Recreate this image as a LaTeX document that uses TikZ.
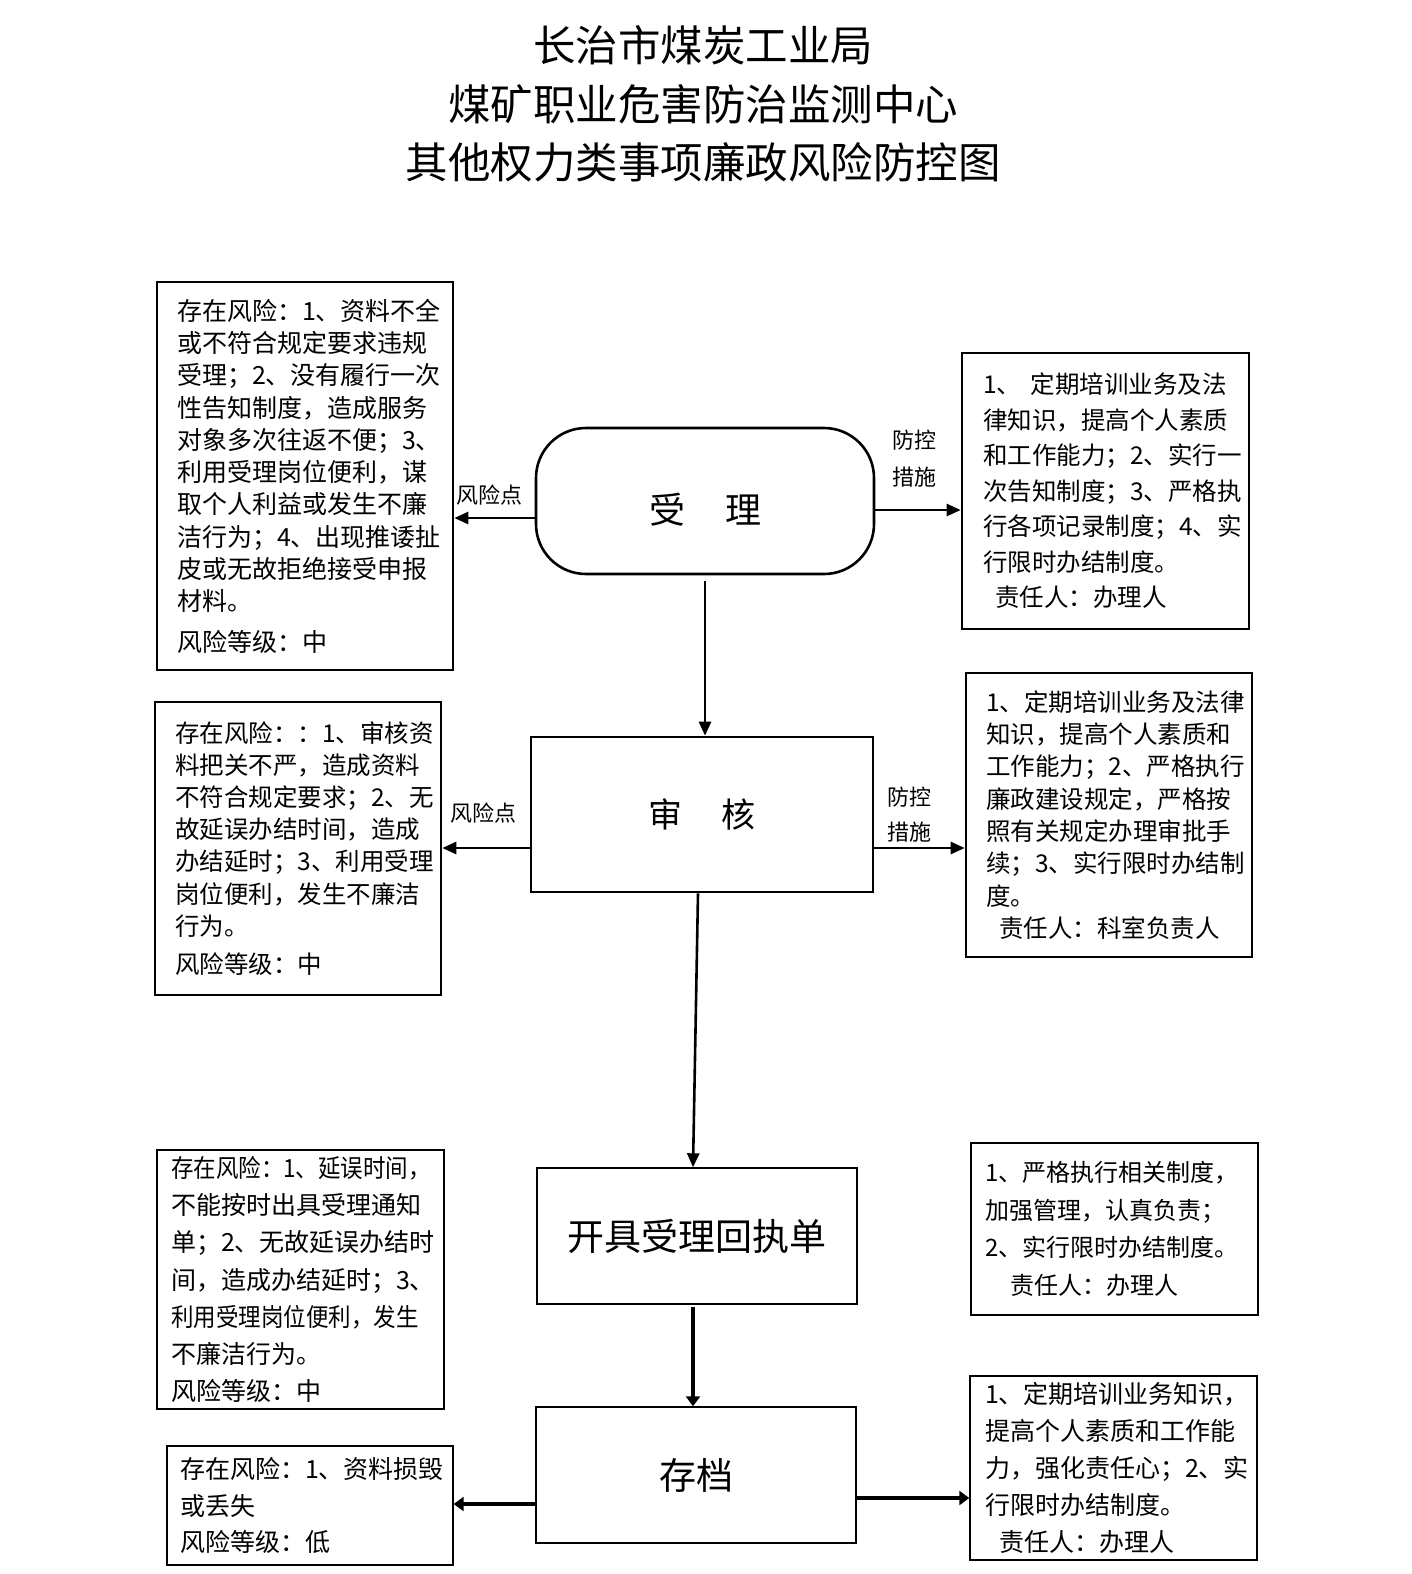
\documentclass[tikz,border=0pt]{standalone}
\usepackage{fontspec}
\setmainfont{Noto Sans CJK SC}
\usepackage{graphicx}
\usetikzlibrary{arrows.meta,positioning}
\newcommand{\fs}[2]{\fontsize{#1}{#2}\selectfont}
\newcommand{\tight}[1]{\scalebox{0.9}[1]{#1}}
\tikzset{
  box/.style     = {draw, line width=2.6pt, align=left, inner ysep=0pt},
  thinbox/.style = {draw, line width=1.4pt, align=left, inner ysep=0pt},
  stage/.style   = {draw, line width=2.6pt, align=center},
  arr/.style     = {-{Triangle[length=14pt,width=12pt]}, line width=2.6pt},
  arrb/.style    = {-{Triangle[length=10pt,width=14pt]}, line width=3.6pt},
  lbl/.style     = {font=\fs{22}{37}, align=center, inner sep=0pt},
}

\begin{document}
\begin{tikzpicture}[x=1pt,y=-1pt]
  \useasboundingbox (0,0) rectangle (1412,1574);
  \node[font=\fs{42.5}{58.5}, align=center] (title) at (703,104)
    {长治市煤炭工业局\\煤矿职业危害防治监测中心\\其他权力类事项廉政风险防控图};

  % stages
  \node[stage, rounded corners=50pt, minimum width=338pt, minimum height=146pt,
        text height=50pt, text depth=5pt,
        font=\fs{36}{40}] (shouli) at (705,501) {受\hspace{40pt}理};
  \node[stage, minimum width=342pt, minimum height=155pt,
        font=\fs{34}{40}] (shenhe) at (702,814.5) {审\hspace{40pt}核};
  \node[stage, line width=1.4pt, minimum width=320pt, minimum height=136pt,
        font=\fs{37}{40}] (huizhi) at (697,1236) {开具受理回执单};
  \node[stage, line width=1.4pt, minimum width=320pt, minimum height=136pt,
        font=\fs{37}{40}] (cundang) at (696,1475) {存档};

  % risks
  \node[box, minimum width=296pt, minimum height=388pt, inner xsep=20pt, text width=256pt,
        font=\fs{25}{32.3}] (riskA) at (305,476)
    {存在风险：1、资料不全\\或不符合规定要求违规\\受理；2、没有履行一次\\性告知制度，造成服务\\
     对象多次往返不便；3、\\利用受理岗位便利，谋\\取个人利益或发生不廉\\洁行为；4、出现推诿扯\\
     皮或无故拒绝接受申报\\材料。\\[8pt]风险等级：中};
  \node[box, minimum width=286pt, minimum height=293pt, inner xsep=20pt, text width=246pt,
        font=\fs{24.5}{32.2}] (riskB) at (298,848.5)
    {存在风险：：1、审核资\\料把关不严，造成资料\\不符合规定要求；2、无\\故延误办结时间，造成\\
     办结延时；3、利用受理\\岗位便利，发生不廉洁\\行为。\\[6pt]风险等级：中};
  \node[thinbox, minimum width=287pt, minimum height=259pt, inner xsep=14pt, text width=259pt,
        font=\fs{25}{37.1}] (riskC) at (300.5,1279.5)
    {\tight{存在风险：1、延误时间，}\\不能按时出具受理通知\\单；2、无故延误办结时\\间，造成办结延时；3、\\
     \tight{利用受理岗位便利，发生}\\不廉洁行为。\\风险等级：中};
  \node[thinbox, minimum width=286pt, minimum height=119pt, inner xsep=13pt, text width=260pt,
        font=\fs{25}{36.5}] (riskD) at (310,1505.5)
    {存在风险：1、资料损毁\\或丢失\\风险等级：低};

  % measures
  \node[box, minimum width=287pt, minimum height=276pt, inner xsep=21pt, text width=245pt,
        font=\fs{24.5}{35.5}] (measA) at (1105.5,491)
    {1、\hspace{0.4em}定期培训业务及法\\律知识，提高个人素质\\和工作能力；2、实行一\\次告知制度；3、严格执\\
     行各项记录制度；4、实\\行限时办结制度。\\\hspace*{12pt}责任人：办理人};
  \node[box, minimum width=286pt, minimum height=284pt, inner xsep=20pt, text width=246pt,
        font=\fs{24.5}{32.3}] (measB) at (1109,815)
    {1、定期培训业务及法律\\知识，提高个人素质和\\工作能力；2、严格执行\\廉政建设规定，严格按\\
     照有关规定办理审批手\\续；3、实行限时办结制\\度。\\\hspace*{13pt}责任人：科室负责人};
  \node[thinbox, minimum width=287pt, minimum height=172pt, inner xsep=14pt, text width=259pt,
        font=\fs{24}{37.5}] (measC) at (1114.5,1229)
    {1、严格执行相关制度，\\加强管理，认真负责；\\2、实行限时办结制度。\\\hspace*{25pt}责任人：办理人};
  \node[thinbox, minimum width=287pt, minimum height=184pt, inner xsep=15pt, text width=257pt,
        font=\fs{25}{36.8}] (measD) at (1113.5,1468)
    {1、定期培训业务知识，\\提高个人素质和工作能\\力，强化责任心；2、实\\行限时办结制度。\\\hspace*{14pt}责任人：办理人};

  % labels
  \node[lbl] (riskptA) at (489,495) {风险点};
  \node[lbl] (ctlptA) at (914,458.5) {防控\\措施};
  \node[lbl] (riskptB) at (483,813) {风险点};
  \node[lbl, font=\fs{22}{35}] (ctlptB) at (909,814.5) {防控\\措施};

  % connectors
  \draw[arr] ([yshift=-17pt]shouli.west) coordinate (sA) -- (sA -| riskA.east);
  \draw[arr] ([yshift=-9pt]shouli.east) coordinate (sB) -- (sB -| measA.west);
  \draw[arr] ([yshift=-6pt]shouli.south) -- (shouli.south |- shenhe.north);
  \draw[arr] ([yshift=-33.5pt]shenhe.west) coordinate (sC) -- (sC -| riskB.east);
  \draw[arr] ([yshift=-33.5pt]shenhe.east) coordinate (sD) -- (sD -| measB.west);
  \draw[arr] ([xshift=-4pt]shenhe.south) -- ([xshift=-4pt]huizhi.north);
  \draw[arrb] ([xshift=-4pt,yshift=-2pt]huizhi.south) -- ([xshift=-3pt]cundang.north);
  \draw[arrb] ([yshift=-29pt]cundang.west) coordinate (sE) -- (sE -| riskD.east);
  \draw[arrb] ([yshift=-23pt]cundang.east) coordinate (sF) -- (sF -| measD.west);
\end{tikzpicture}
\end{document}
